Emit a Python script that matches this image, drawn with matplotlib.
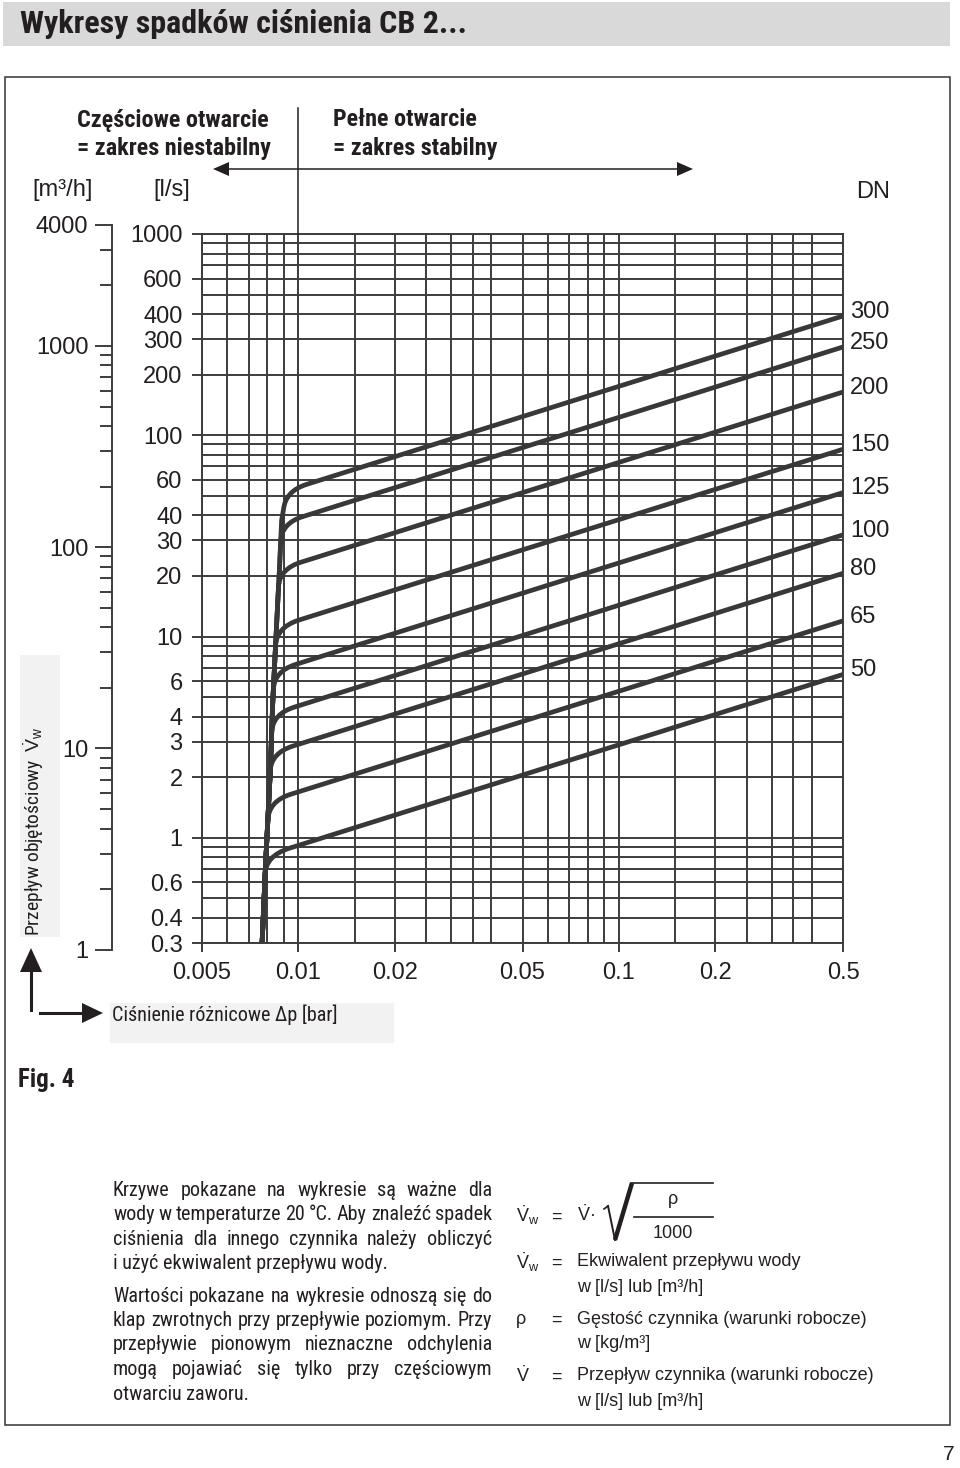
import numpy as np
import matplotlib
matplotlib.use("Agg")
import matplotlib.pyplot as plt
from matplotlib import font_manager
from matplotlib.path import Path
from matplotlib.patches import PathPatch, Rectangle, Polygon
from matplotlib.lines import Line2D
from matplotlib.transforms import Affine2D
from matplotlib.ticker import FixedLocator, NullFormatter

# --- data --------------------------------------------------------------
dn_labels = ["50", "65", "80", "100", "125", "150", "200", "250", "300"]
dp_end = 0.5
q_end = [6.48, 11.96, 20.6, 32.0, 51.9, 85.2, 164, 274.6, 391.5]   # l/s at 0.5 bar

# steep part (partial opening), shared by all sizes
env_dp = [0.0077, 0.0079, 0.00817, 0.00831, 0.00853, 0.00872, 0.00886, 0.0091]
env_q = [0.3, 0.75, 2.17, 4.68, 10.8, 21.4, 37.9, 47.7]

# knee of each curve: where it leaves the steep part, the corner, where it joins the line
leave_dp = [0.00787, 0.00803, 0.00816, 0.00825, 0.00835, 0.00848, 0.00866, 0.0088, 0.00898]
leave_q = [0.66, 1.23, 2.14, 3.34, 5.45, 9.0, 17.6, 29.6, 42.8]
knee_dp = [0.0079, 0.00808, 0.00821, 0.00829, 0.0084, 0.00854, 0.00872, 0.00884, 0.0091]
knee_q = [0.81, 1.52, 2.64, 4.12, 6.73, 11.1, 21.7, 36.5, 52.8]
join_dp = [0.0093, 0.00945, 0.0096, 0.0097, 0.0098, 0.0100, 0.0102, 0.0103, 0.0106]
join_q = [0.884, 1.644, 2.854, 4.457, 7.266, 12.05, 23.42, 39.4, 57.0]

x_ticks = [0.005, 0.01, 0.02, 0.05, 0.1, 0.2, 0.5]
x_grid = [0.005, 0.006, 0.007, 0.008, 0.009, 0.01, 0.015, 0.02, 0.025, 0.03, 0.035,
          0.04, 0.05, 0.06, 0.07, 0.08, 0.09, 0.1, 0.15, 0.2, 0.25, 0.3, 0.35, 0.4, 0.5]
y_ticks = [0.3, 0.4, 0.6, 1, 2, 3, 4, 6, 10, 20, 30, 40, 60, 100, 200, 300, 400, 600, 1000]
y_grid = [m * 10.0 ** e for e in range(-1, 3) for m in range(1, 10)] + [1000]
y_grid = [v for v in y_grid if v >= 0.3]
m3h_ticks = [1, 10, 100, 1000, 4000]
ls_to_m3h = 3.6

para1 = ["Krzywe pokazane na wykresie są ważne dla",
         "wody w temperaturze 20 °C. Aby znaleźć spadek",
         "ciśnienia dla innego czynnika należy obliczyć",
         "i użyć ekwiwalent przepływu wody."]
para2 = ["Wartości pokazane na wykresie odnoszą się do",
         "klap zwrotnych przy przepływie poziomym. Przy",
         "przepływie pionowym nieznaczne odchylenia",
         "mogą pojawiać się tylko przy częściowym",
         "otwarciu zaworu."]

# --- fonts ---------------------------------------------------------------
names = {f.name for f in font_manager.fontManager.ttflist}
narrow = next((n for n in ["Liberation Sans Narrow", "Arial Narrow", "Roboto Condensed",
                           "Open Sans Condensed", "DejaVu Sans Condensed", "Noto Sans Condensed"]
               if n in names), "Liberation Sans")
plt.rcParams["font.family"] = ["Liberation Sans", "DejaVu Sans"]
plt.rcParams["mathtext.fontset"] = "custom"
plt.rcParams["mathtext.rm"] = "Liberation Sans"
plt.rcParams["mathtext.it"] = "Liberation Sans"
NARROW = [narrow, "Liberation Sans", "DejaVu Sans"]

W, H = 960, 1468
tc = "#231f20"
gc = "#3c3c3c"
cc = "#383838"

fig = plt.figure(figsize=(W / 100, H / 100), dpi=100)
fig.patch.set_facecolor("white")
# page pixel coordinates, y downwards
T = Affine2D().scale(1 / W, -1 / H).translate(0, 1) + fig.transFigure

# --- page decoration -----------------------------------------------------
fig.add_artist(Rectangle((3, 2), 947, 44, transform=T, facecolor="#d9d9d9", edgecolor="none"))
fig.text(20, 24, "Wykresy spadków ciśnienia CB 2...", transform=T, ha="left", va="center",
         fontsize=23, weight="bold", family=NARROW, color=tc)
fig.add_artist(Rectangle((5, 77), 945, 1348, transform=T, facecolor="none",
                         edgecolor="#333333", lw=1.1))
fig.text(18, 1080, "Fig. 4", transform=T, ha="left", va="center", fontsize=18,
         weight="bold", family=NARROW, color=tc)
fig.text(955, 1455, "7", transform=T, ha="right", va="center", fontsize=15, color=tc)

# --- main chart ----------------------------------------------------------
L, R, TOP, BOT = 202, 843, 234, 943
ax = fig.add_axes([L / W, 1 - BOT / H, (R - L) / W, (BOT - TOP) / H])
ax.set_xscale("log")
ax.set_yscale("log")
ax.set_xlim(0.005, 0.5)
ax.set_ylim(0.3, 1000)

ax.set_xticks(x_ticks, [f"{v:g}" for v in x_ticks])
ax.xaxis.set_minor_locator(FixedLocator(x_grid))
ax.set_yticks(y_ticks, [f"{v:g}" for v in y_ticks])
ax.yaxis.set_minor_locator(FixedLocator(y_grid))
ax.xaxis.set_minor_formatter(NullFormatter())
ax.yaxis.set_minor_formatter(NullFormatter())
ax.grid(which="both", color=gc, lw=1.4)
ax.tick_params(which="minor", length=0)
ax.tick_params(axis="x", which="major", length=6.5, width=1.4, color=gc, pad=7,
               labelsize=17, labelcolor=tc)
ax.tick_params(axis="y", which="major", length=7, width=1.4, color=gc, pad=7,
               labelsize=17, labelcolor=tc)
for s in ax.spines.values():
    s.set_color(gc)
    s.set_linewidth(1.4)

for i, dn in enumerate(dn_labels):
    verts = [(d, q) for d, q in zip(env_dp, env_q) if q < leave_q[i]]
    codes = [Path.MOVETO] + [Path.LINETO] * (len(verts) - 1)
    verts += [(leave_dp[i], leave_q[i]), (knee_dp[i], knee_q[i]),
              (join_dp[i], join_q[i]), (dp_end, q_end[i])]
    codes += [Path.LINETO, Path.CURVE3, Path.CURVE3, Path.LINETO]
    ax.add_patch(PathPatch(Path(verts, codes), fill=False, edgecolor=cc, lw=3.4,
                           capstyle="butt", joinstyle="round", zorder=3))
    ax.annotate(dn, xy=(dp_end, q_end[i]), xytext=(5, 3), textcoords="offset points",
                ha="left", va="center", fontsize=17, color=tc, annotation_clip=False)

fig.text(873, 192, "DN", transform=T, ha="center", va="center", fontsize=17, color=tc)

# --- m3/h scale ----------------------------------------------------------
ylo = np.log10(0.3)
yhi = np.log10(1000)


def page_y(q_ls):
    return BOT - (np.log10(q_ls) - ylo) / (yhi - ylo) * (BOT - TOP)


m_top = page_y(m3h_ticks[-1] / ls_to_m3h)
m_bot = page_y(m3h_ticks[0] / ls_to_m3h)
axm = fig.add_axes([112 / W, 1 - m_bot / H, 0.0005, (m_bot - m_top) / H])
axm.set_yscale("log")
axm.set_ylim(m3h_ticks[0], m3h_ticks[-1])
axm.set_yticks(m3h_ticks, [str(v) for v in m3h_ticks])
axm.yaxis.set_minor_formatter(NullFormatter())
axm.set_xticks([])
axm.patch.set_visible(False)
for k in ["top", "right", "bottom"]:
    axm.spines[k].set_visible(False)
axm.spines["left"].set_color(gc)
axm.spines["left"].set_linewidth(1.4)
axm.tick_params(which="major", length=12, width=1.4, color=gc, pad=5, labelsize=17,
                labelcolor=tc)
axm.tick_params(which="minor", length=8.5, width=1.4, color=gc)

fig.text(63, 190, "[m³/h]", transform=T, ha="center", va="center", fontsize=17, color=tc)
fig.text(172, 190, "[l/s]", transform=T, ha="center", va="center", fontsize=17, color=tc)

# --- opening ranges header -----------------------------------------------
x01 = L + (np.log10(0.01) - np.log10(0.005)) / 2 * (R - L)
fig.add_artist(Line2D([x01, x01], [108, TOP], transform=T, color=tc, lw=1.1))
fig.add_artist(Line2D([226, 680], [169, 169], transform=T, color=tc, lw=1.1))
fig.add_artist(Polygon([[213, 169], [229, 162], [229, 176]], closed=True, transform=T,
                       facecolor=tc, edgecolor="none"))
fig.add_artist(Polygon([[693, 169], [677, 162], [677, 176]], closed=True, transform=T,
                       facecolor=tc, edgecolor="none"))
hkw = dict(transform=T, va="center", fontsize=17.4, weight="bold", family=NARROW, color=tc)
fig.text(173, 120, "Częściowe otwarcie", ha="center", **hkw)
fig.text(174, 148, "= zakres niestabilny", ha="center", **hkw)
fig.text(333, 120, "Pełne otwarcie", ha="left", **hkw)
fig.text(333, 148, "= zakres stabilny", ha="left", **hkw)

# --- axis captions with arrows ---------------------------------------------
fig.add_artist(Rectangle((20, 655), 40, 282, transform=T, facecolor="#f2f2f2", edgecolor="none"))
fig.text(34, 936, r"Przepływ objętościowy  $\dot{V}_{w}$", transform=T, rotation=90,
         ha="center", va="bottom", fontsize=14, family=NARROW, color=tc)
fig.add_artist(Rectangle((110, 1003), 284, 40, transform=T, facecolor="#f2f2f2", edgecolor="none"))
fig.text(112, 1015, "Ciśnienie różnicowe Δp [bar]", transform=T, ha="left", va="center",
         fontsize=14.5, family=NARROW, color=tc)
fig.add_artist(Line2D([31, 31], [1010, 968], transform=T, color=tc, lw=2.2))
fig.add_artist(Polygon([[31, 948], [20, 972], [42, 972]], closed=True, transform=T,
                       facecolor=tc, edgecolor="none"))
fig.add_artist(Line2D([40, 86], [1013, 1013], transform=T, color=tc, lw=2.2))
fig.add_artist(Polygon([[103, 1013], [82, 1003], [82, 1023]], closed=True, transform=T,
                       facecolor=tc, edgecolor="none"))

# --- explanatory text --------------------------------------------------------
renderer = fig.canvas.get_renderer()


def justified(lines, y0, step, x0=113, x1=492, **kw):
    for n, line in enumerate(lines):
        y = y0 + n * step
        words = line.split()
        if n == len(lines) - 1:
            fig.text(x0, y, line, transform=T, ha="left", va="center", **kw)
            continue
        ts = [fig.text(0, y, w, transform=T, ha="left", va="center", **kw) for w in words]
        ws = [t.get_window_extent(renderer).width for t in ts]
        gap = (x1 - x0 - sum(ws)) / (len(words) - 1)
        x = x0
        for t, w in zip(ts, ws):
            t.set_x(x)
            x += w + gap


pkw = dict(fontsize=14.5, family=NARROW, color=tc)
justified(para1, 1190, 24.6, **pkw)
justified(para2, 1296, 24.5, **pkw)

fkw = dict(transform=T, va="center", fontsize=13, color=tc)
vw = r"$\dot{V}_{w}$"
fig.text(516, 1215, vw, ha="left", **fkw)
fig.text(556, 1217, "=", ha="center", **fkw)
fig.text(577, 1215, r"$\dot{V}$·", ha="left", **fkw)
fig.add_artist(Line2D([604, 608], [1209, 1206], transform=T, color=tc, lw=1.2))
fig.add_artist(Line2D([608, 615], [1206, 1240], transform=T, color=tc, lw=1.4))
fig.add_artist(Line2D([615, 632], [1240, 1183], transform=T, color=tc, lw=3.2,
                      solid_capstyle="butt"))
fig.add_artist(Line2D([631, 713], [1183, 1183], transform=T, color=tc, lw=1.2))
fig.text(673, 1199, "ρ", ha="center", **fkw)
fig.add_artist(Line2D([634, 713], [1217, 1217], transform=T, color=tc, lw=1.2))
fig.text(673, 1233, "1000", ha="center", **fkw)

rows = [(1262, vw, "Ekwiwalent przepływu wody", "w [l/s] lub [m³/h]"),
        (1319, "ρ", "Gęstość czynnika (warunki robocze)", "w [kg/m³]"),
        (1376, r"$\dot{V}$", "Przepływ czynnika (warunki robocze)", "w [l/s] lub [m³/h]")]
for y, sym, l1, l2 in rows:
    fig.text(516, y, sym, ha="left", **fkw)
    fig.text(556, y + 1, "=", ha="center", **fkw)
    fig.text(577, y, l1, ha="left", **fkw)
    fig.text(577, y + 25, l2, ha="left", **fkw)

fig.savefig("out.png", dpi=100)
